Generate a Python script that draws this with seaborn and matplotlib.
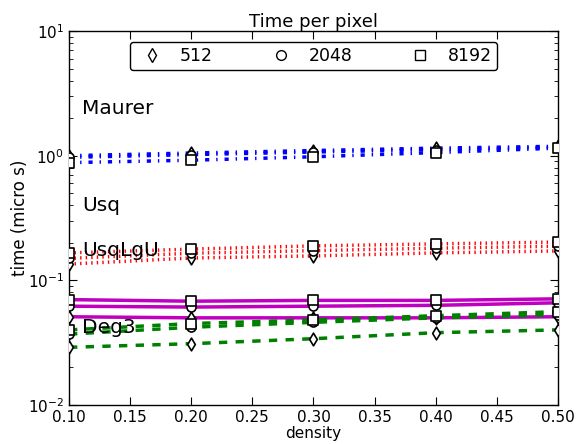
import numpy as np
import pandas as pd
import matplotlib
matplotlib.use("Agg")
import matplotlib.pyplot as plt
import seaborn as sns
from matplotlib.lines import Line2D

# values
density = [0.1, 0.2, 0.3, 0.4, 0.5]
sizes = ["512", "2048", "8192"]

maurer = {"512": [1.00, 1.05, 1.10, 1.15, 1.19],
          "2048": [0.97, 1.02, 1.07, 1.12, 1.17],
          "8192": [0.88, 0.92, 0.98, 1.06, 1.15]}
usq = {"512": [0.135, 0.151, 0.157, 0.166, 0.172],
       "2048": [0.150, 0.165, 0.173, 0.181, 0.188],
       "8192": [0.166, 0.178, 0.189, 0.196, 0.203]}
usqlgu = {"512": [0.051, 0.050, 0.050, 0.050, 0.051],
          "2048": [0.062, 0.061, 0.062, 0.063, 0.066],
          "8192": [0.070, 0.068, 0.069, 0.069, 0.071]}
deg3 = {"512": [0.029, 0.031, 0.034, 0.038, 0.040],
        "2048": [0.037, 0.042, 0.046, 0.050, 0.053],
        "8192": [0.040, 0.045, 0.048, 0.052, 0.056]}

methods = ["Maurer", "Usq", "UsqLgU", "Deg3"]
method_data = [maurer, usq, usqlgu, deg3]
method_colors = ["blue", "red", "m", "green"]
method_dashes = [(3, 5, 1, 5), (1, 3), None, (6, 6)]
label_y = [2.4, 0.40, 0.175, 0.042]
size_markers = {"512": "d", "2048": "o", "8192": "s"}

sns.set_style("ticks")
plt.rcParams["font.family"] = ["DejaVu Sans"]
plt.rcParams["mathtext.default"] = "regular"
plt.rcParams["lines.scale_dashes"] = False
plt.rcParams["text.color"] = "black"
plt.rcParams["axes.labelcolor"] = "black"
plt.rcParams["xtick.color"] = "black"
plt.rcParams["ytick.color"] = "black"

fig = plt.figure(figsize=(5.8, 4.44), dpi=100)
ax = fig.add_axes([0.119, 0.088, 0.843, 0.842])

for name, data, col, dsh in zip(methods, method_data, method_colors, method_dashes):
    for s in sizes:
        df = pd.DataFrame({"density": density, "time": data[s]})
        sns.lineplot(data=df, x="density", y="time", color=col, linewidth=2.5,
                     ax=ax, zorder=2)
        if dsh is not None:
            ax.lines[-1].set_dashes(dsh)
        sns.scatterplot(data=df, x="density", y="time", marker=size_markers[s],
                        s=42, facecolor="white", edgecolor="black", linewidth=1.2,
                        ax=ax, zorder=3)

for name, y in zip(methods, label_y):
    ax.text(0.111, y, name, fontsize=14.5, va="center", ha="left", color="black")

ax.set_yscale("log")
ax.set_xlim(0.1, 0.5)
ax.set_ylim(1e-2, 1e1)
ax.set_xticks(np.arange(0.1, 0.51, 0.05))
ax.set_xticklabels(["%.2f" % v for v in np.arange(0.1, 0.51, 0.05)])
ax.tick_params(which="both", direction="in", top=True, right=True, labelsize=11)
ax.tick_params(which="major", length=6)
ax.tick_params(which="minor", length=3)
for sp in ax.spines.values():
    sp.set_visible(True)
    sp.set_linewidth(1)
    sp.set_color("black")

ax.set_xlabel("density", fontsize=11, labelpad=1)
ax.set_ylabel("time (micro s)", fontsize=12, labelpad=-1)
ax.set_title("Time per pixel", fontsize=13, pad=1)

handles = [Line2D([], [], linestyle="none", marker=size_markers[s], color="black",
                  markerfacecolor="white", markersize=7, markeredgewidth=1) for s in sizes]
leg = ax.legend(handles, sizes, loc="upper center", ncol=3, fontsize=12.5,
                frameon=True, fancybox=True, columnspacing=2.9, handletextpad=0.6,
                borderpad=0.3, bbox_to_anchor=(0.5, 0.995))
leg.get_frame().set_edgecolor("black")
leg.get_frame().set_linewidth(1)
leg.get_frame().set_alpha(1)

fig.savefig("out.png", dpi=100)
